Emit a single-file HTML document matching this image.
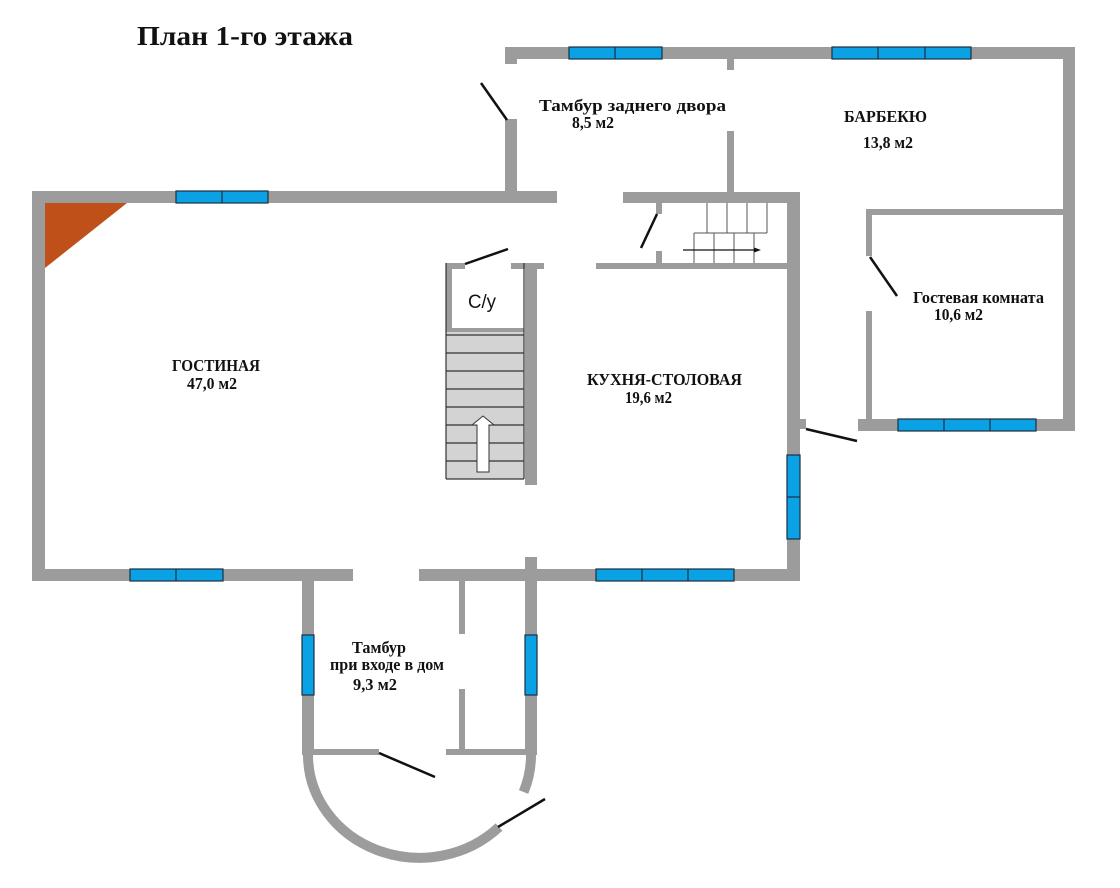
<!DOCTYPE html>
<html><head><meta charset="utf-8"><style>
html,body{margin:0;padding:0;background:#fff;}
svg{display:block;}
.t{font-family:"Liberation Serif","Noto Serif CJK SC",serif;font-weight:bold;fill:#111;}
.s{font-family:"Liberation Sans","Noto Sans CJK SC",sans-serif;fill:#111;}
</style></head><body>
<svg width="1120" height="888" viewBox="0 0 1120 888" xmlns="http://www.w3.org/2000/svg">
<rect width="1120" height="888" fill="#fff"/>
<g fill="#9c9c9c">
<!-- main house -->
<rect x="32" y="191" width="525" height="12"/>
<rect x="32" y="191" width="13" height="390"/>
<rect x="32" y="569" width="321" height="12"/>
<rect x="419" y="569" width="381" height="12"/>
<rect x="787" y="192" width="13" height="389"/>
<rect x="623" y="192" width="177" height="11"/>
<rect x="596" y="263" width="191" height="6"/>
<rect x="656" y="203" width="6" height="11"/>
<rect x="656" y="251" width="6" height="12"/>
<rect x="525" y="263" width="12" height="222"/>
<rect x="511" y="263" width="33" height="6"/>
<rect x="446" y="263" width="19" height="6"/>
<rect x="446" y="263" width="6" height="69"/>
<rect x="446" y="328" width="78" height="4"/>
<!-- back part -->
<rect x="505" y="47" width="570" height="12"/>
<rect x="505" y="59" width="12" height="5"/>
<rect x="505" y="119" width="12" height="73"/>
<rect x="727" y="59" width="7" height="11"/>
<rect x="727" y="131" width="7" height="62"/>
<rect x="1063" y="47" width="12" height="384"/>
<rect x="866" y="209" width="197" height="6"/>
<rect x="866" y="209" width="6" height="47"/>
<rect x="866" y="311" width="6" height="109"/>
<rect x="858" y="419" width="217" height="12"/>
<rect x="799" y="419" width="7" height="10"/>
<!-- front vestibule -->
<rect x="302" y="575" width="12" height="180"/>
<rect x="525" y="557" width="12" height="198"/>
<rect x="459" y="581" width="6" height="53"/>
<rect x="459" y="689" width="6" height="61"/>
<rect x="302" y="749" width="77" height="6"/>
<rect x="446" y="749" width="91" height="6"/>
</g>
<g fill="none" stroke="#9c9c9c" stroke-width="10">
<path d="M 308 755 A 111.5 103 0 0 0 499 827"/>
<path d="M 531 755 A 111.5 103 0 0 1 523.6 792"/>
</g>
<!-- fireplace -->
<polygon points="45,203 127,203 45,268" fill="#c0501a"/>
<!-- windows -->
<g fill="#0aa2e4" stroke="#1c2e40" stroke-width="1.2">
<rect x="569" y="47" width="93" height="12"/><line x1="615" y1="47" x2="615" y2="59"/>
<rect x="832" y="47" width="139" height="12"/><line x1="878" y1="47" x2="878" y2="59"/><line x1="925" y1="47" x2="925" y2="59"/>
<rect x="176" y="191" width="92" height="12"/><line x1="222" y1="191" x2="222" y2="203"/>
<rect x="130" y="569" width="93" height="12"/><line x1="176" y1="569" x2="176" y2="581"/>
<rect x="596" y="569" width="138" height="12"/><line x1="642" y1="569" x2="642" y2="581"/><line x1="688" y1="569" x2="688" y2="581"/>
<rect x="787" y="455" width="13" height="84"/><line x1="787" y1="497" x2="800" y2="497"/>
<rect x="898" y="419" width="138" height="12"/><line x1="944" y1="419" x2="944" y2="431"/><line x1="990" y1="419" x2="990" y2="431"/>
<rect x="302" y="635" width="12" height="60"/>
<rect x="525" y="635" width="12" height="60"/>
</g>
<!-- doors -->
<g stroke="#111" stroke-width="2.5" stroke-linecap="butt">
<line x1="481" y1="83" x2="507" y2="120"/>
<line x1="657" y1="214" x2="641" y2="248"/>
<line x1="465" y1="264" x2="508" y2="249"/>
<line x1="870" y1="257" x2="897" y2="296"/>
<line x1="806" y1="429" x2="857" y2="441"/>
<line x1="379" y1="753" x2="435" y2="777"/>
<line x1="498" y1="827" x2="545" y2="799"/>
</g>
<!-- small stairs -->
<g stroke="#555" stroke-width="1" fill="none">
<line x1="707" y1="203" x2="707" y2="233"/>
<line x1="727" y1="203" x2="727" y2="233"/>
<line x1="747" y1="203" x2="747" y2="233"/>
<line x1="767" y1="203" x2="767" y2="233"/>
<line x1="694" y1="233" x2="767" y2="233"/>
<line x1="694" y1="233" x2="694" y2="263"/>
<line x1="714" y1="233" x2="714" y2="263"/>
<line x1="734" y1="233" x2="734" y2="263"/>
<line x1="754" y1="233" x2="754" y2="263"/>
</g>
<line x1="683" y1="250" x2="755" y2="250" stroke="#111" stroke-width="1.2"/>
<polygon points="761,250 754,247.5 754,252.5" fill="#111"/>
<!-- main stairs -->
<rect x="446" y="332" width="78" height="147" fill="#d3d3d3"/>
<g stroke="#333" stroke-width="1.2">
<line x1="446" y1="335" x2="524" y2="335"/>
<line x1="446" y1="353" x2="524" y2="353"/>
<line x1="446" y1="371" x2="524" y2="371"/>
<line x1="446" y1="389" x2="524" y2="389"/>
<line x1="446" y1="407" x2="524" y2="407"/>
<line x1="446" y1="425" x2="524" y2="425"/>
<line x1="446" y1="443" x2="524" y2="443"/>
<line x1="446" y1="461" x2="524" y2="461"/>
<line x1="446" y1="479" x2="524" y2="479"/>
<line x1="446" y1="263" x2="446" y2="479"/>
<line x1="524" y1="263" x2="524" y2="479"/>
</g>
<polygon points="477,472 489,472 489,425 494,425 483,416 472,425 477,425" fill="#fff" stroke="#333" stroke-width="1"/>
<!-- text -->
<text class="t" x="137" y="45" font-size="27" textLength="216" lengthAdjust="spacingAndGlyphs">План 1-го этажа</text>
<text class="t" x="539" y="111" font-size="16.5" textLength="187" lengthAdjust="spacingAndGlyphs">Тамбур заднего двора</text>
<text class="t" x="572" y="128" font-size="16.5" textLength="42" lengthAdjust="spacingAndGlyphs">8,5 м2</text>
<text class="t" x="844" y="122" font-size="16.5" textLength="83" lengthAdjust="spacingAndGlyphs">БАРБЕКЮ</text>
<text class="t" x="863" y="148" font-size="16.5" textLength="50" lengthAdjust="spacingAndGlyphs">13,8 м2</text>
<text class="t" x="913" y="303" font-size="16.5" textLength="131" lengthAdjust="spacingAndGlyphs">Гостевая комната</text>
<text class="t" x="934" y="320" font-size="16.5" textLength="49" lengthAdjust="spacingAndGlyphs">10,6 м2</text>
<text class="t" x="172" y="371" font-size="16.5" textLength="88" lengthAdjust="spacingAndGlyphs">ГОСТИНАЯ</text>
<text class="t" x="187" y="389" font-size="16.5" textLength="50" lengthAdjust="spacingAndGlyphs">47,0 м2</text>
<text class="t" x="587" y="385" font-size="16.5" textLength="155" lengthAdjust="spacingAndGlyphs">КУХНЯ-СТОЛОВАЯ</text>
<text class="t" x="625" y="403" font-size="16.5" textLength="47" lengthAdjust="spacingAndGlyphs">19,6 м2</text>
<text class="t" x="352" y="653" font-size="16.5" textLength="54" lengthAdjust="spacingAndGlyphs">Тамбур</text>
<text class="t" x="330" y="670" font-size="16.5" textLength="114" lengthAdjust="spacingAndGlyphs">при входе в дом</text>
<text class="t" x="353" y="690" font-size="16.5" textLength="44" lengthAdjust="spacingAndGlyphs">9,3 м2</text>
<text class="s" x="468" y="308" font-size="19" textLength="28" lengthAdjust="spacingAndGlyphs">С/у</text>
</svg>
</body></html>
